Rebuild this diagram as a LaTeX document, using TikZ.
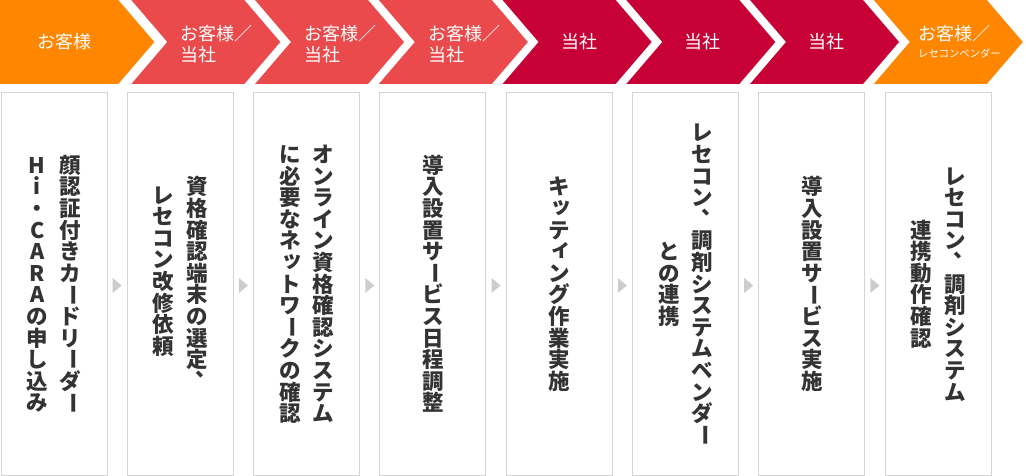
\documentclass[tikz,border=0pt]{standalone}
\usepackage{fontspec}
\setmainfont{Noto Sans CJK JP}
\usetikzlibrary{positioning,calc}

\definecolor{kyaku}{HTML}{FF8600}
\definecolor{kyodo}{HTML}{EA4A4C}
\definecolor{tosha}{HTML}{C70035}
\definecolor{waku}{HTML}{D4D4D4}
\definecolor{moji}{HTML}{333333}
\definecolor{sankaku}{HTML}{CDCDCD}

% vertical writing, one cell per character
\newlength\tatepitch
\setlength\tatepitch{21.6pt}
\newcommand\tatebox[1]{\hbox to 1em{\hss\vbox to\tatepitch{\vss\hbox{\vrule height .88em depth .12em width 0pt #1}\vss}\hss}}
\newcommand\tatebar{\hbox to 1em{\hss\vbox to\tatepitch{\vss\hbox{\rotatebox{-90}{ー}}\vss}\hss}}
\newcommand\tatecomma{\tatebox{\kern.45em\raisebox{.6em}{、}\kern-.45em}}
\newcommand\tatesmall[1]{\tatebox{\kern.1em\raisebox{.15em}{#1}\kern-.1em}}
\ExplSyntaxOn
\NewDocumentCommand\tate{m}
  {
    \vbox
      {
        \offinterlineskip
        \tl_map_inline:nn {#1}
          {
            \str_case:nnF {##1}
              {
                {ー}{\tatebar}
                {、}{\tatecomma}
                {ッ}{\tatesmall{ッ}}
                {ィ}{\tatesmall{ィ}}
              }
              {\tatebox{##1}}
          }
      }
  }
\ExplSyntaxOff

\begin{document}
\begin{tikzpicture}[x=1pt,y=-1pt,
  head/.style={text=white,font=\fontsize{18}{21.5}\selectfont,inner sep=0pt,align=left},
  stepbox/.style={draw=waku,line width=1pt,fill=white,minimum width=106pt,minimum height=382pt,inner sep=0pt},
  tatecol/.style={text=moji,font=\fontsize{21.5}{21.5}\selectfont\bfseries,inner sep=0pt},
  tri/.style={fill=sankaku}]
  \useasboundingbox (0,0) rectangle (1026,476);

  \fill[kyaku] (0,0) -- (118.3,0) -- (154.3,42) -- (118.3,84) -- (0,84) -- cycle;                      % step 1
  \fill[kyodo] (131.3,0) -- ++(113,0) -- ++(36,42) -- ++(-36,42) -- ++(-113,0) -- ++(36,-42) -- cycle;  % step 2
  \fill[kyodo] (255.0,0) -- ++(113,0) -- ++(36,42) -- ++(-36,42) -- ++(-113,0) -- ++(36,-42) -- cycle;  % step 3
  \fill[kyodo] (378.8,0) -- ++(113,0) -- ++(36,42) -- ++(-36,42) -- ++(-113,0) -- ++(36,-42) -- cycle;  % step 4
  \fill[tosha] (502.6,0) -- ++(113,0) -- ++(36,42) -- ++(-36,42) -- ++(-113,0) -- ++(36,-42) -- cycle;  % step 5
  \fill[tosha] (626.3,0) -- ++(113,0) -- ++(36,42) -- ++(-36,42) -- ++(-113,0) -- ++(36,-42) -- cycle;  % step 6
  \fill[tosha] (750.0,0) -- ++(113,0) -- ++(36,42) -- ++(-36,42) -- ++(-113,0) -- ++(36,-42) -- cycle;  % step 7
  \fill[kyaku] (873.8,0) -- ++(113,0) -- ++(36,42) -- ++(-36,42) -- ++(-113,0) -- ++(36,-42) -- cycle;  % step 8

  \node[head] (h1) at (64,42) {お客様};                          % who does it
  \node[head,anchor=west] (h2) at (180.3,44) {お客様／\\当社};
  \node[head,anchor=west] (h3) at (304.0,44) {お客様／\\当社};
  \node[head,anchor=west] (h4) at (427.8,44) {お客様／\\当社};
  \node[head] (h5) at (579.1,42) {当社};
  \node[head] (h6) at (702.8,42) {当社};
  \node[head] (h7) at (826.5,42) {当社};
  \node[head,anchor=west] (h8) at (918,33.5) {お客様／};
  \node[head,anchor=west,font=\fontsize{10.3}{12}\selectfont] (h8s) at (918,53) {レセコンベンダー};

  \node[stepbox] (b1) at (54.0,284) {};                          % boxes
  \node[stepbox] (b2) at (180.3,284) {};
  \node[stepbox] (b3) at (306.6,284) {};
  \node[stepbox] (b4) at (432.9,284) {};
  \node[stepbox] (b5) at (559.2,284) {};
  \node[stepbox] (b6) at (685.5,284) {};
  \node[stepbox] (b7) at (811.8,284) {};
  \node[stepbox] (b8) at (938.1,284) {};

  \fill[tri] ($(b1.east)!.5!(b2.west)+(0,1.5)$) +(-4.5,-7.5) -- +(4.5,0) -- +(-4.5,7.5) -- cycle;  % small arrows
  \fill[tri] ($(b2.east)!.5!(b3.west)+(0,1.5)$) +(-4.5,-7.5) -- +(4.5,0) -- +(-4.5,7.5) -- cycle;
  \fill[tri] ($(b3.east)!.5!(b4.west)+(0,1.5)$) +(-4.5,-7.5) -- +(4.5,0) -- +(-4.5,7.5) -- cycle;
  \fill[tri] ($(b4.east)!.5!(b5.west)+(0,1.5)$) +(-4.5,-7.5) -- +(4.5,0) -- +(-4.5,7.5) -- cycle;
  \fill[tri] ($(b5.east)!.5!(b6.west)+(0,1.5)$) +(-4.5,-7.5) -- +(4.5,0) -- +(-4.5,7.5) -- cycle;
  \fill[tri] ($(b6.east)!.5!(b7.west)+(0,1.5)$) +(-4.5,-7.5) -- +(4.5,0) -- +(-4.5,7.5) -- cycle;
  \fill[tri] ($(b7.east)!.5!(b8.west)+(0,1.5)$) +(-4.5,-7.5) -- +(4.5,0) -- +(-4.5,7.5) -- cycle;

  \node[tatecol] (t1a) at (70.7,284) {\tate{顔認証付きカードリーダー}};   % box texts, right column first
  \node[tatecol] (t1b) at (37.3,284) {\tate{Hi・CARAの申し込み}};
  \node[tatecol] (t2a) at (197.0,284) {\tate{資格確認端末の選定、}};
  \node[tatecol,anchor=north] (t2b) at (163.6,184) {\tate{レセコン改修依頼}};
  \node[tatecol] (t3a) at (323.3,284) {\tate{オンライン資格確認システム}};
  \node[tatecol] (t3b) at (289.9,284) {\tate{に必要なネットワークの確認}};
  \node[tatecol] (t4) at (432.9,284) {\tate{導入設置サービス日程調整}};
  \node[tatecol] (t5) at (559.2,284) {\tate{キッティング作業実施}};
  \node[tatecol] (t6a) at (702.2,284) {\tate{レセコン、調剤システムベンダー}};
  \node[tatecol] (t6b) at (668.8,284) {\tate{との連携}};
  \node[tatecol] (t7) at (811.8,284) {\tate{導入設置サービス実施}};
  \node[tatecol] (t8a) at (954.8,284) {\tate{レセコン、調剤システム}};
  \node[tatecol] (t8b) at (921.4,284) {\tate{連携動作確認}};
\end{tikzpicture}
\end{document}
